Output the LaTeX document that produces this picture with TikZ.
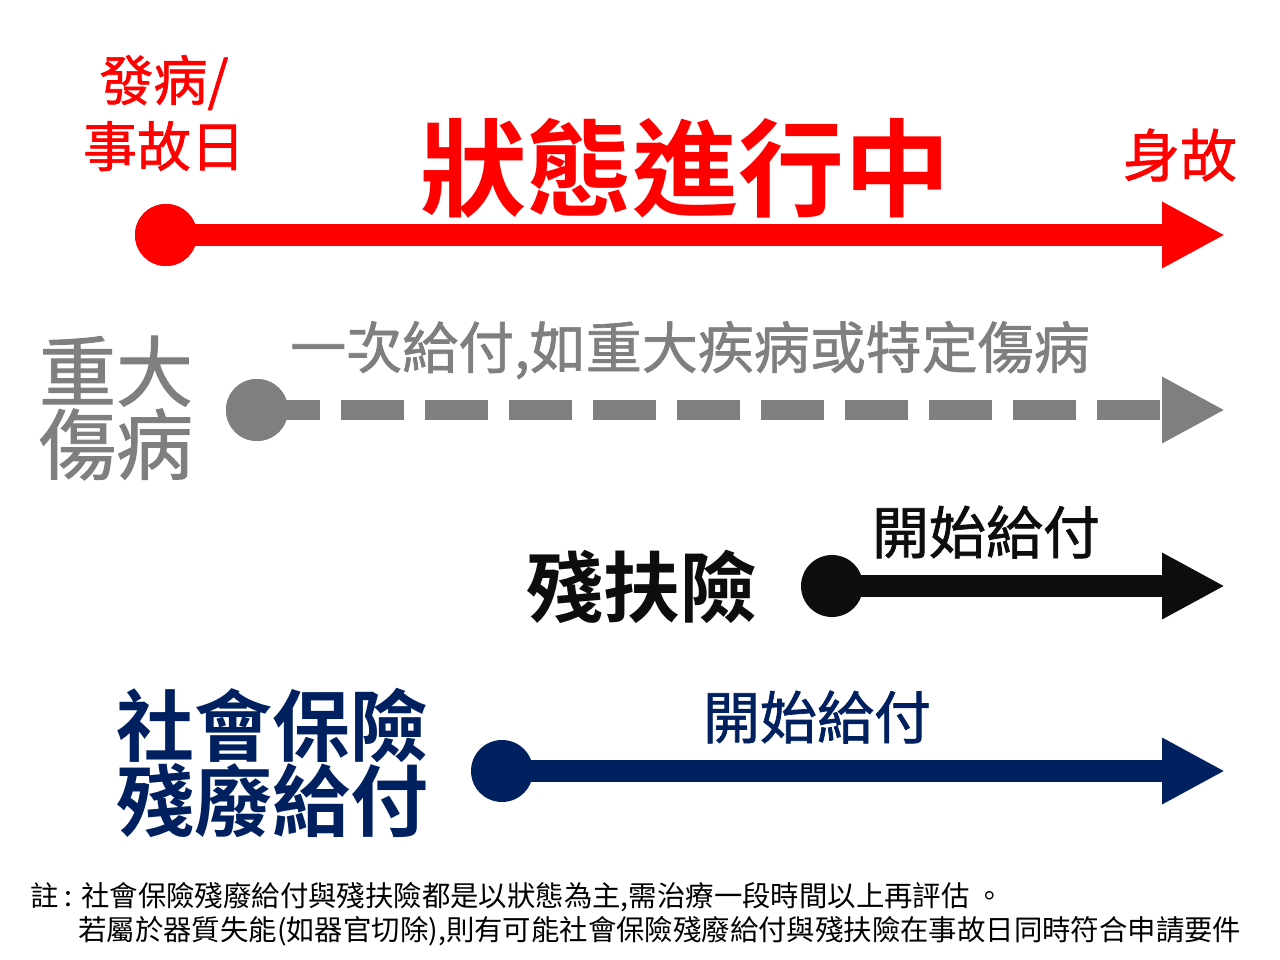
\documentclass[tikz,border=0pt]{standalone}
\usepackage{fontspec}
\newfontfamily\cjk[BoldFont={Noto Sans CJK TC Bold}]{Noto Sans CJK TC}
\newfontfamily\cjkm[FakeBold=1.2]{Noto Sans CJK TC}
\usetikzlibrary{arrows.meta}
\definecolor{cred}{HTML}{FF0000}
\definecolor{cgray}{HTML}{7F7F7F}
\definecolor{cblack}{HTML}{0D0D0D}
\definecolor{cnavy}{HTML}{002060}
\tikzset{
  dot/.style={circle, fill=#1, minimum size=62pt, inner sep=0pt},
  tl/.style={draw=#1, line width=22pt, -{Triangle[length=63pt,width=62pt]}, color=#1},
  lbl/.style={inner sep=0pt, text=#1},
}
\newcommand{\fs}[2]{\fontsize{#1}{#2}\selectfont}
\begin{document}
\begin{tikzpicture}[x=1pt,y=-1pt]
\useasboundingbox (0,0) rectangle (1280,960);
% red
\node[dot=cred] (c1) at (166,235) {};
\coordinate (e1) at (1225,235);
\draw[tl=cred] (c1.center) -- (e1);
\node[dot=cred] at (c1) {};
\node[lbl=cred, align=center, font=\cjkm\fs{54}{66}] (t1) at (164,113) {發病/\\事故日};
\node[lbl=cred, font=\cjk\fs{106}{106}\bfseries] (t2) at (685,168) {狀態進行中};
\node[lbl=cred, font=\cjkm\fs{57}{57}] (t3) at (1180,155) {身故};
% gray
\node[dot=cgray] (c2) at (257,410) {};
\coordinate (e2) at (1225,410);
\draw[tl=cgray, line width=20pt, dash pattern=on 63pt off 21pt] (c2.center) -- (e2);
\node[dot=cgray] at (c2) {};
\node[lbl=cgray, align=center, font=\cjkm\fs{77}{73}] (t4) at (116,408) {重大\\傷病};
\node[lbl=cgray, font=\cjkm\fs{56}{56}] (t5) at (690,350) {一次給付,如重大疾病或特定傷病};
% black
\node[dot=cblack] (c3) at (832,586) {};
\coordinate (e3) at (1225,586);
\draw[tl=cblack] (c3.center) -- (e3);
\node[lbl=cblack, font=\cjk\fs{77}{77}\bfseries] (t6) at (642,587) {殘扶險};
\node[lbl=cblack, font=\cjkm\fs{57}{57}] (t7) at (986,532) {開始給付};
% navy
\node[dot=cnavy] (c4) at (502,771) {};
\coordinate (e4) at (1225,771);
\draw[tl=cnavy] (c4.center) -- (e4);
\node[lbl=cnavy, align=center, font=\cjk\fs{78}{74}\bfseries] (t8) at (272,763) {社會保險\\殘廢給付};
\node[lbl=cnavy, font=\cjkm\fs{57}{57}] (t9) at (817,717) {開始給付};
% footnote
\node[lbl=black, anchor=west, font=\cjk\fs{28.4}{28}] (n1) at (30,897) {註 : 社會保險殘廢給付與殘扶險都是以狀態為主,需治療一段時間以上再評估 。};
\node[lbl=black, anchor=west, font=\cjk\fs{28.4}{28}] (n2) at (78,931) {若屬於器質失能(如器官切除),則有可能社會保險殘廢給付與殘扶險在事故日同時符合申請要件};
\end{tikzpicture}
\end{document}
